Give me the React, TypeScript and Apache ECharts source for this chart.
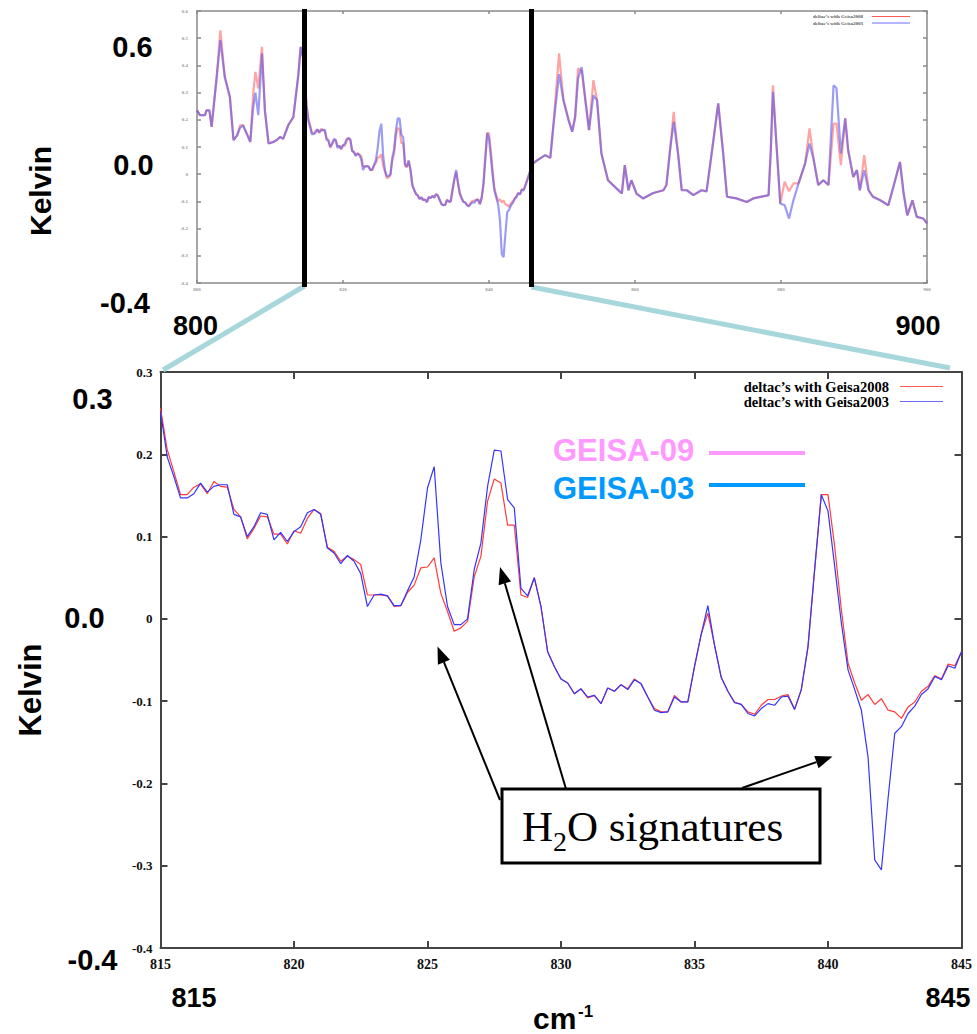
import React, { useEffect, useRef } from "react";
import * as echarts from "echarts";

const SANS = "'Liberation Sans', Arial, sans-serif";
const SERIF = "'Liberation Serif', 'Times New Roman', serif";

const NAME_2008 = "deltac\u2019s with Geisa2008";
const NAME_2003 = "deltac\u2019s with Geisa2003";

// ---- Overview (800-815 cm-1) ----
const leftWavenumbers = [800.0, 800.4, 801.1, 801.3, 801.7, 802.0, 802.7, 803.2, 803.8, 804.5, 805.0, 805.5, 805.9, 806.3, 806.8, 807.3, 807.7, 808.0, 808.4, 808.9, 809.3, 809.8, 810.5, 810.9, 811.4, 811.8, 812.5, 813.2, 813.9, 814.2, 814.6];
const left2008 = [0.235, 0.217, 0.217, 0.235, 0.235, 0.174, 0.358, 0.529, 0.358, 0.284, 0.125, 0.143, 0.18, 0.18, 0.15, 0.119, 0.297, 0.376, 0.315, 0.468, 0.235, 0.113, 0.119, 0.125, 0.137, 0.13, 0.18, 0.21, 0.37, 0.468, 0.42];
const left2003 = [0.235, 0.217, 0.217, 0.235, 0.235, 0.174, 0.358, 0.493, 0.358, 0.284, 0.125, 0.143, 0.17, 0.18, 0.15, 0.119, 0.247, 0.30, 0.217, 0.444, 0.235, 0.113, 0.119, 0.125, 0.137, 0.13, 0.18, 0.21, 0.37, 0.468, 0.42];

// ---- Zoomed region (815-845 cm-1, step 0.25) ----
const detailStart = 815;
const detailStep = 0.25;
const detail2008 = [
  0.256, 0.206, 0.179, 0.151,
  0.151, 0.160, 0.164, 0.152,
  0.167, 0.161, 0.160, 0.133,
  0.124, 0.097, 0.110, 0.125,
  0.124, 0.103, 0.103, 0.091,
  0.107, 0.104, 0.122, 0.133,
  0.128, 0.087, 0.082, 0.070,
  0.076, 0.072, 0.066, 0.029,
  0.029, 0.029, 0.028, 0.015,
  0.016, 0.032, 0.041, 0.062,
  0.063, 0.074, 0.031, 0.009,
  -0.015, -0.011, -0.003, 0.051,
  0.076, 0.143, 0.170, 0.165,
  0.114, 0.114, 0.029, 0.026,
  0.050, 0.015, -0.040, -0.058,
  -0.073, -0.078, -0.091, -0.085,
  -0.096, -0.093, -0.103, -0.084,
  -0.088, -0.080, -0.085, -0.073,
  -0.079, -0.095, -0.109, -0.113,
  -0.113, -0.093, -0.101, -0.101,
  -0.058, -0.019, 0.007, -0.032,
  -0.071, -0.088, -0.101, -0.104,
  -0.113, -0.116, -0.105, -0.098,
  -0.098, -0.094, -0.092, -0.110,
  -0.086, -0.034, 0.060, 0.151,
  0.151, 0.088, 0.011, -0.054,
  -0.078, -0.099, -0.092, -0.104,
  -0.097, -0.111, -0.113, -0.121,
  -0.107, -0.101, -0.088, -0.082,
  -0.069, -0.073, -0.055, -0.057,
  -0.040,
];
const detail2003 = [
  0.252, 0.197, 0.173, 0.147,
  0.147, 0.152, 0.165, 0.154,
  0.161, 0.163, 0.163, 0.127,
  0.124, 0.100, 0.112, 0.129,
  0.127, 0.096, 0.105, 0.094,
  0.106, 0.112, 0.129, 0.133,
  0.127, 0.086, 0.080, 0.067,
  0.077, 0.070, 0.055, 0.015,
  0.029, 0.030, 0.028, 0.016,
  0.016, 0.034, 0.051, 0.096,
  0.159, 0.185, 0.068, 0.015,
  -0.007, -0.007, 0.000, 0.060,
  0.092, 0.161, 0.205, 0.204,
  0.145, 0.135, 0.037, 0.028,
  0.050, 0.015, -0.040, -0.058,
  -0.073, -0.078, -0.091, -0.085,
  -0.095, -0.093, -0.103, -0.084,
  -0.088, -0.080, -0.086, -0.074,
  -0.079, -0.095, -0.111, -0.114,
  -0.113, -0.095, -0.101, -0.101,
  -0.058, -0.019, 0.016, -0.032,
  -0.071, -0.088, -0.102, -0.104,
  -0.115, -0.118, -0.109, -0.103,
  -0.105, -0.095, -0.094, -0.110,
  -0.086, -0.034, 0.060, 0.151,
  0.131, 0.064, -0.005, -0.062,
  -0.086, -0.111, -0.168, -0.293,
  -0.305, -0.218, -0.139, -0.131,
  -0.115, -0.106, -0.092, -0.085,
  -0.070, -0.074, -0.057, -0.060,
  -0.040,
];

// ---- Overview (845-900 cm-1) ----
const rightWavenumbers = [845.5, 846.0, 846.3, 847.0, 847.7, 848.4, 848.8, 849.6, 850.2, 850.9, 851.4, 851.8, 852.2, 852.7, 853.2, 853.7, 854.3, 854.8, 855.4, 856.3, 857.5, 858.2, 858.6, 859.1, 859.5, 860.2, 861.1, 862.5, 863.9, 864.3, 864.8, 865.3, 865.9, 866.4, 867.1, 868.0, 869.1, 869.8, 870.5, 871.4, 872.1, 872.6, 873.9, 875.3, 876.2, 878.3, 878.6, 878.9, 879.4, 879.9, 880.5, 881.1, 881.7, 882.4, 883.3, 883.9, 884.5, 885.1, 885.8, 886.5, 887.2, 887.6, 888.2, 888.8, 889.2, 889.9, 890.4, 890.8, 891.4, 892.0, 892.6, 893.6, 894.7, 895.4, 896.3, 896.8, 897.3, 898.0, 898.6, 899.5, 900.0];
const right2008 = [0.0, 0.04, 0.045, 0.058, 0.07, 0.06, 0.174, 0.444, 0.272, 0.199, 0.156, 0.21, 0.389, 0.38, 0.272, 0.162, 0.346, 0.272, 0.076, -0.022, -0.053, -0.071, 0.033, -0.059, -0.022, -0.071, -0.089, -0.069, -0.059, -0.04, 0.088, 0.229, 0.076, -0.059, -0.059, -0.077, -0.059, -0.063, 0.076, 0.26, 0.07, -0.083, -0.089, -0.102, -0.089, -0.077, 0.088, 0.327, 0.1, -0.108, -0.028, -0.063, -0.034, -0.034, 0.039, 0.168, 0.05, -0.04, -0.022, -0.04, 0.186, 0.186, 0.033, 0.205, 0.088, -0.01, 0.015, -0.059, 0.07, -0.059, -0.083, -0.096, -0.114, -0.046, 0.045, -0.071, -0.151, -0.096, -0.157, -0.163, -0.181];
const right2003 = [0.0, 0.04, 0.045, 0.058, 0.07, 0.06, 0.174, 0.368, 0.272, 0.199, 0.156, 0.21, 0.352, 0.394, 0.272, 0.162, 0.29, 0.272, 0.076, -0.022, -0.053, -0.071, 0.033, -0.059, -0.022, -0.071, -0.089, -0.069, -0.059, -0.04, 0.088, 0.192, 0.076, -0.059, -0.059, -0.077, -0.059, -0.063, 0.076, 0.26, 0.07, -0.083, -0.089, -0.102, -0.089, -0.077, 0.088, 0.303, 0.1, -0.108, -0.114, -0.163, -0.096, -0.034, 0.039, 0.113, 0.05, -0.04, -0.022, -0.04, 0.327, 0.316, 0.076, 0.205, 0.088, -0.01, 0.015, -0.059, 0.015, -0.059, -0.083, -0.096, -0.114, -0.046, 0.045, -0.071, -0.151, -0.096, -0.157, -0.163, -0.181];

// Axis ranges / ticks
const overviewX = { min: 800, max: 900, interval: 20 };
const overviewY = { min: -0.4, max: 0.6, interval: 0.1 };
const zoomX = { min: 815, max: 845, interval: 5 };
const zoomY = { min: -0.4, max: 0.3, interval: 0.1 };

const detailWavenumbers = detail2008.map((_, i) => detailStart + i * detailStep);
const pairs = (xs: number[], ys: number[]) => xs.map((x, i) => [x, ys[i]]);

const overview2008 = [...pairs(leftWavenumbers, left2008), ...pairs(detailWavenumbers, detail2008), ...pairs(rightWavenumbers, right2008)];
const overview2003 = [...pairs(leftWavenumbers, left2003), ...pairs(detailWavenumbers, detail2003), ...pairs(rightWavenumbers, right2003)];
const zoom2008 = pairs(detailWavenumbers, detail2008);
const zoom2003 = pairs(detailWavenumbers, detail2003);

const yFmt = (v: number) => (Math.abs(v) < 1e-9 ? "0" : v.toFixed(1));

function bigText(text: string, x: number, y: number, size = 29, rotation = 0, align = "center") {
  return {
    type: "text",
    x,
    y,
    rotation,
    z: 60,
    style: { text, fill: "#000", fontSize: size, fontWeight: "bold", fontFamily: SANS, align, verticalAlign: "middle" },
  };
}

function arrow(tail: [number, number], tip: [number, number]) {
  const dx = tip[0] - tail[0];
  const dy = tip[1] - tail[1];
  const len = Math.hypot(dx, dy);
  const ux = dx / len;
  const uy = dy / len;
  const hl = 17;
  const hw = 6.5;
  const bx = tip[0] - hl * ux;
  const by = tip[1] - hl * uy;
  const nx = -uy;
  const ny = ux;
  return [
    { type: "line", z: 70, shape: { x1: tail[0], y1: tail[1], x2: bx, y2: by }, style: { stroke: "#000", lineWidth: 2 } },
    {
      type: "polygon",
      z: 70,
      shape: { points: [tip, [bx + hw * nx, by + hw * ny], [bx - hw * nx, by - hw * ny]] },
      style: { fill: "#000" },
    },
  ];
}

export default function App() {
  const ref = useRef<HTMLDivElement>(null);

  useEffect(() => {
    if (!ref.current) return;
    const chart = echarts.init(ref.current, undefined, { renderer: "svg" });

    const topLine = { color: "#8a8a8a", width: 1.5 };
    const botLine = { color: "#444", width: 2 };

    const xAxisBase = (gridIndex: number, range: any, line: any, position: string, showLabel: boolean, labelStyle: any, tickLen: number) => ({
      type: "value",
      gridIndex,
      position,
      min: range.min,
      max: range.max,
      interval: range.interval,
      axisLine: { show: true, onZero: false, lineStyle: line },
      axisTick: { show: true, inside: true, length: tickLen, lineStyle: line },
      axisLabel: showLabel ? { show: true, showMinLabel: true, showMaxLabel: true, ...labelStyle } : { show: false },
      splitLine: { show: false },
    });

    const yAxisBase = (gridIndex: number, range: any, line: any, position: string, showLabel: boolean, labelStyle: any, tickLen: number) => ({
      type: "value",
      gridIndex,
      position,
      min: range.min,
      max: range.max,
      interval: range.interval,
      axisLine: { show: true, onZero: false, lineStyle: line },
      axisTick: { show: true, inside: true, length: tickLen, lineStyle: line },
      axisLabel: showLabel ? { show: true, showMinLabel: true, showMaxLabel: true, formatter: yFmt, ...labelStyle } : { show: false },
      splitLine: { show: false },
    });

    const topLabel = { fontSize: 5, color: "#999", fontFamily: SERIF, fontWeight: "bold" };
    const botYLabel = { fontSize: 13, color: "#111", fontFamily: SERIF, fontWeight: "bold", margin: 8 };
    const botXLabel = { fontSize: 14, color: "#111", fontFamily: SERIF, fontWeight: "bold", margin: 9 };

    const graphic: any[] = [
      // connectors between the two panels
      { type: "line", z: 40, shape: { x1: 304.5, y1: 286, x2: 163, y2: 370 }, style: { stroke: "#a8d7db", lineWidth: 5 } },
      { type: "line", z: 40, shape: { x1: 531.5, y1: 287, x2: 950, y2: 368 }, style: { stroke: "#a8d7db", lineWidth: 5 } },
      // black selection bars
      { type: "line", z: 45, shape: { x1: 304.5, y1: 9, x2: 304.5, y2: 287 }, style: { stroke: "#000", lineWidth: 5 } },
      { type: "line", z: 45, shape: { x1: 531.5, y1: 9, x2: 531.5, y2: 287 }, style: { stroke: "#000", lineWidth: 5 } },
      // big labels, upper panel
      bigText("0.6", 132.5, 47),
      bigText("0.0", 133.5, 165),
      bigText("-0.4", 125, 303),
      bigText("800", 195.5, 326, 27),
      bigText("900", 918, 326, 27),
      bigText("Kelvin", 40, 191, 30, Math.PI / 2),
      // big labels, lower panel
      bigText("0.3", 92.5, 399),
      bigText("0.0", 84.5, 618),
      bigText("-0.4", 92.5, 960),
      bigText("815", 194, 997.5, 27),
      bigText("845", 948, 997.5, 27),
      bigText("Kelvin", 30, 690, 31, Math.PI / 2),
      bigText("cm", 533, 1018, 30, 0, "left"),
      bigText("-1", 578, 1011, 17, 0, "left"),
      // GEISA key
      { type: "text", x: 553, y: 450, z: 60, style: { text: "GEISA-09", fill: "#ff99ff", fontSize: 31, fontWeight: "bold", fontFamily: SANS, align: "left", verticalAlign: "middle" } },
      { type: "line", z: 60, shape: { x1: 709, y1: 453, x2: 805, y2: 453 }, style: { stroke: "#ff99ff", lineWidth: 4 } },
      { type: "text", x: 553, y: 488, z: 60, style: { text: "GEISA-03", fill: "#0099ff", fontSize: 31, fontWeight: "bold", fontFamily: SANS, align: "left", verticalAlign: "middle" } },
      { type: "line", z: 60, shape: { x1: 709, y1: 485, x2: 805, y2: 485 }, style: { stroke: "#0099ff", lineWidth: 4 } },
      // arrows
      ...arrow([500, 800], [437.5, 646.5]),
      ...arrow([566, 789], [500, 567]),
      ...arrow([742, 788], [832.5, 756.5]),
      // annotation box
      { type: "rect", z: 75, shape: { x: 502, y: 789, width: 318, height: 74 }, style: { fill: "#fff", stroke: "#000", lineWidth: 3 } },
      { type: "text", x: 522, y: 826, z: 80, style: { text: "H", fill: "#000", fontSize: 43, fontFamily: SERIF, align: "left", verticalAlign: "middle" } },
      { type: "text", x: 553, y: 841, z: 80, style: { text: "2", fill: "#000", fontSize: 28, fontFamily: SERIF, align: "left", verticalAlign: "middle" } },
      { type: "text", x: 567, y: 826, z: 80, style: { text: "O signatures", fill: "#000", fontSize: 43, fontFamily: SERIF, align: "left", verticalAlign: "middle" } },
    ];

    chart.setOption({
      animation: false,
      backgroundColor: "#fff",
      grid: [
        { left: 197, top: 11, width: 730, height: 272, containLabel: false },
        { left: 160.5, top: 372, width: 801, height: 576, containLabel: false },
      ],
      xAxis: [
        xAxisBase(0, overviewX, topLine, "bottom", true, { ...topLabel, margin: 4 }, 3),
        xAxisBase(0, overviewX, topLine, "top", false, {}, 3),
        xAxisBase(1, zoomX, botLine, "bottom", true, botXLabel, 7),
        xAxisBase(1, zoomX, botLine, "top", false, {}, 7),
      ],
      yAxis: [
        yAxisBase(0, overviewY, topLine, "left", true, { ...topLabel, margin: 9 }, 4),
        yAxisBase(0, overviewY, topLine, "right", false, {}, 4),
        yAxisBase(1, zoomY, botLine, "left", true, botYLabel, 7),
        yAxisBase(1, zoomY, botLine, "right", false, {}, 7),
      ],
      legend: [
        {
          data: [NAME_2008, NAME_2003],
          orient: "vertical",
          align: "right",
          right: 67,
          top: 14,
          padding: 0,
          itemGap: 1.5,
          itemWidth: 38,
          itemHeight: 0.8,
          icon: "rect",
          selectedMode: false,
          textStyle: { fontSize: 5, color: "#555", fontFamily: SERIF, fontWeight: "bold", padding: [0, 4, 0, 0] },
        },
        {
          data: [NAME_2008, NAME_2003],
          orient: "vertical",
          align: "right",
          right: 34,
          top: 379,
          padding: 0,
          itemGap: 0,
          itemWidth: 43,
          itemHeight: 1.2,
          icon: "rect",
          selectedMode: false,
          textStyle: { fontSize: 14.5, color: "#000", fontFamily: SERIF, fontWeight: "bold", padding: [0, 6, 0, 0] },
        },
      ],
      series: [
        {
          name: NAME_2008,
          type: "line",
          xAxisIndex: 0,
          yAxisIndex: 0,
          data: overview2008,
          symbol: "none",
          itemStyle: { color: "#ff5a5a" },
          lineStyle: { color: "#ff5a5a", width: 2.2, opacity: 0.55 },
          z: 2,
        },
        {
          name: NAME_2003,
          type: "line",
          xAxisIndex: 0,
          yAxisIndex: 0,
          data: overview2003,
          symbol: "none",
          itemStyle: { color: "#6a6aff" },
          lineStyle: { color: "#4a4af0", width: 2.2, opacity: 0.55 },
          z: 3,
        },
        {
          name: NAME_2008,
          type: "line",
          xAxisIndex: 2,
          yAxisIndex: 2,
          data: zoom2008,
          symbol: "none",
          itemStyle: { color: "#ff5a5a" },
          lineStyle: { color: "#ff3b3b", width: 1.2 },
          z: 2,
        },
        {
          name: NAME_2003,
          type: "line",
          xAxisIndex: 2,
          yAxisIndex: 2,
          data: zoom2003,
          symbol: "none",
          itemStyle: { color: "#6a6aff" },
          lineStyle: { color: "#3535ff", width: 1.2 },
          z: 3,
        },
      ],
      graphic,
    });

    return () => {
      chart.dispose();
    };
  }, []);

  return (
    <div
      ref={ref}
      style={{ position: "absolute", left: 0, top: 0, width: 977, height: 1034, background: "#fff" }}
    />
  );
}
